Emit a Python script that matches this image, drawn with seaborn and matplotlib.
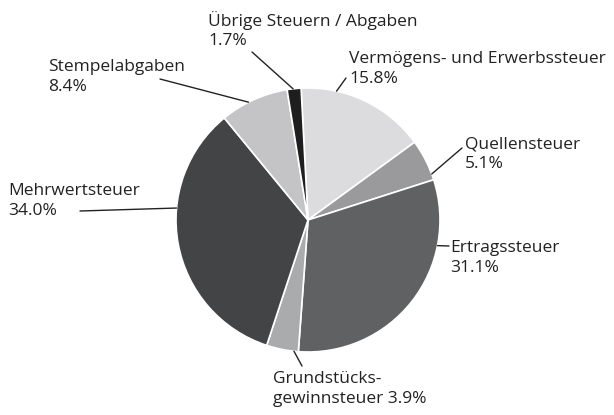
import matplotlib
matplotlib.use("Agg")
import numpy as np
import matplotlib.pyplot as plt
import seaborn as sns

# Data (clockwise from top)
categories = ["Vermögens- und Erwerbssteuer", "Quellensteuer", "Ertragssteuer",
              "Grundstücks-\ngewinnsteuer", "Mehrwertsteuer", "Stempelabgaben",
              "Übrige Steuern / Abgaben"]
shares = [15.8, 5.1, 31.1, 3.9, 34.0, 8.4, 1.7]
colors = ["#dcdcde", "#9a9a9c", "#606163", "#aaabad", "#434446", "#c4c4c6", "#1e1e1e"]

sns.set_theme(style="white")
plt.rcParams["font.family"] = ["Open Sans", "DejaVu Sans"]

W, H = 614, 415
cx, cy, r = 308, 220, 132
start = 93

fig = plt.figure(figsize=(W / 100, H / 100), dpi=100)
ax = fig.add_axes([0, 0, 1, 1])

def py(y):
    return H - y

ax.pie(shares, colors=colors, startangle=start, counterclock=False,
       center=(cx, py(cy)), radius=r,
       wedgeprops=dict(edgecolor="white", linewidth=1.2))
ax.set_xlim(0, W)
ax.set_ylim(0, H)
ax.axis("off")

# label layout: rim angle of leader, leader end (px), text left/center (px)
layout = [
    (77.5, (346, 78), (349, 69)),
    (20.4, (462, 148), (465, 154)),
    (-11.2, (449, 246), (450, 258)),
    (-96.1, (302, 366), (273, 389)),
    (174.8, (80, 211), (8, 201)),
    (116.8, (160, 79), (48, 77)),
    (96.5, (252, 52), (208, 30)),
]

for cat, val, (ang, lend, tpos) in zip(categories, shares, layout):
    a = np.deg2rad(ang)
    x0 = cx + r * np.cos(a)
    y0 = py(cy) + r * np.sin(a)
    ax.plot([x0, lend[0]], [y0, py(lend[1])], color="#222222", lw=1.0)
    if cat.endswith("-\ngewinnsteuer"):
        label = f"{cat} {val:.1f}%"
    else:
        label = f"{cat}\n{val:.1f}%"
    ax.text(tpos[0], py(tpos[1]), label, ha="left", va="center",
            fontsize=12.5, color="#222222", linespacing=1.33)

fig.savefig("out.png", dpi=100)
